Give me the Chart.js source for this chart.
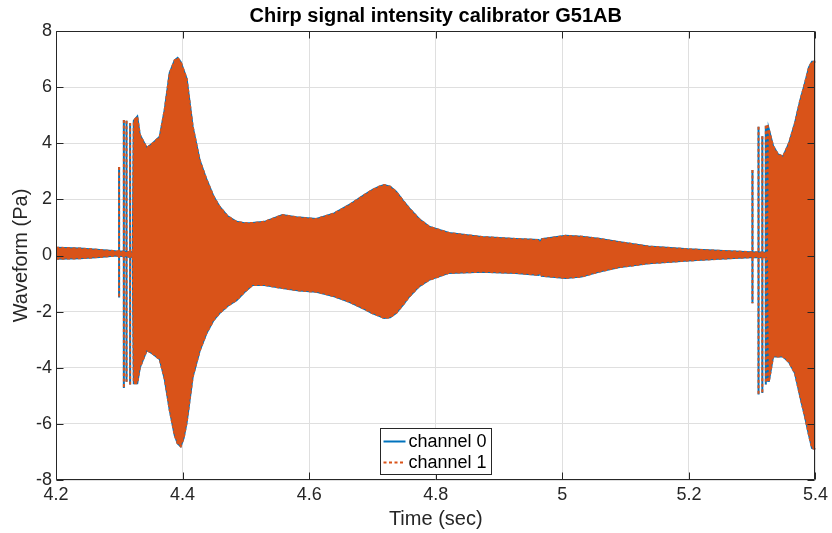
<!DOCTYPE html>
<html>
<head>
<meta charset="utf-8">
<title>Chirp signal intensity calibrator G51AB</title>
<script src="https://cdn.jsdelivr.net/npm/chart.js@4.4.1/dist/chart.umd.min.js"></script>
<style>
    html, body { margin: 0; padding: 0; background: #fff; }
    #wrap { width: 832px; height: 533px; }
</style>
</head>
<body>
<div id="wrap"><canvas id="chirp_chart" width="832" height="533"></canvas></div>
<script>
// envelope of the waveform (time in sec, pressure in Pa)
var envTime = [4.2, 4.2378, 4.2693, 4.2945, 4.3213, 4.3229, 4.3284, 4.3324, 4.3434, 4.3529,
    4.3639, 4.3718, 4.3796, 4.3875, 4.3922, 4.3970, 4.4017, 4.4064, 4.4159, 4.4269,
    4.4379, 4.4490, 4.4584, 4.4710, 4.4852, 4.4978, 4.5104, 4.5293, 4.5577, 4.5845,
    4.6113, 4.6396, 4.6633, 4.6869, 4.6995, 4.7106, 4.7184, 4.7279, 4.7374, 4.7484,
    4.7578, 4.7736, 4.7893, 4.8209, 4.8729, 4.9264, 4.9627, 4.9643, 4.9674, 5.0052,
    5.0304, 5.0572, 5.0888, 5.1360, 5.1991, 5.2464, 5.2968, 5.3251, 5.3262, 5.3330,
    5.3409, 5.3488, 5.3582, 5.3677, 5.3756, 5.3834, 5.3897, 5.3945, 5.4];
var envUpper = [0.28, 0.25, 0.2, 0.15, 0.12, 4.8, 4.95, 4.3, 3.83, 4.0,
    4.23, 5.2, 6.5, 6.95, 7.04, 6.9, 6.6, 6.3, 4.6, 3.4,
    2.7, 2.1, 1.74, 1.4, 1.2, 1.15, 1.16, 1.2, 1.44, 1.35,
    1.3, 1.5, 1.8, 2.15, 2.33, 2.45, 2.51, 2.45, 2.27, 1.95,
    1.69, 1.3, 1.03, 0.8, 0.66, 0.59, 0.55, 0.45, 0.58, 0.7,
    0.67, 0.6, 0.48, 0.32, 0.22, 0.17, 0.12, 0.1, 4.5, 3.9,
    3.6, 3.52, 4.0, 4.72, 5.5, 6.14, 6.7, 6.9, 6.9];
var envLower = [-0.12, -0.1, -0.05, 0.0, -0.05, -4.55, -4.55, -4.0, -3.37, -3.5,
    -3.7, -4.4, -5.5, -6.4, -6.7, -6.8, -6.5, -5.95, -4.33, -3.4,
    -2.76, -2.3, -2.05, -1.8, -1.59, -1.3, -1.05, -1.05, -1.16, -1.25,
    -1.29, -1.45, -1.65, -1.9, -2.05, -2.15, -2.23, -2.2, -2.05, -1.75,
    -1.47, -1.1, -0.87, -0.62, -0.58, -0.62, -0.69, -0.55, -0.72, -0.8,
    -0.75, -0.58, -0.42, -0.28, -0.18, -0.12, -0.06, -0.05, -4.5, -3.6,
    -3.6, -3.6, -3.8, -4.2, -5.0, -5.74, -6.4, -6.86, -6.9];

// single cycles at the start of each burst
var spikeTime = [4.2997, 4.3072, 4.3114, 4.3171, 5.3004, 5.3100, 5.3160, 5.3215, 5.3245];
var spikeHigh = [3.15, 4.83, 4.8, 4.72, 3.05, 4.59, 4.25, 4.62, 4.65];
var spikeLow = [-1.5, -4.72, -4.5, -4.6, -1.7, -4.95, -4.9, -4.6, -4.5];

var xTicks = [4.2, 4.4, 4.6, 4.8, 5, 5.2, 5.4];
var yTicks = [-8, -6, -4, -2, 0, 2, 4, 6, 8];

var seriesNames = ['channel 0', 'channel 1'];
var seriesColors = ['#0072BD', '#D95319'];

var FONT = '"Liberation Sans", Arial, Helvetica, sans-serif';
var INK = '#262626';

function toPoints(xs, ys) {
    return xs.map(function (t, i) { return {x: t, y: ys[i]}; });
}

function spikePoints() {
    var pts = [];
    for (var i = 0; i < spikeTime.length; i++) {
        pts.push({x: spikeTime[i], y: spikeHigh[i]});
        pts.push({x: spikeTime[i], y: spikeLow[i]});
        pts.push({x: spikeTime[i], y: null});
    }
    return pts;
}

function lineSet(label, data, ch, extra) {
    var ds = {
        label: label,
        data: data,
        borderColor: seriesColors[ch],
        backgroundColor: seriesColors[ch],
        borderWidth: 2,
        pointRadius: 0,
        tension: 0,
        fill: false,
        spanGaps: false,
        order: ch == 0 ? 1 : 0
    };
    if (ch == 1) {
        ds.borderDash = [3, 2.5];
    }
    for (var k in extra) ds[k] = extra[k];
    return ds;
}

// box, inner ticks, title, axis labels and legend the way MATLAB draws them
var matlabAxes = {
    id: 'matlabAxes',
    afterDatasetsDraw: function (chart) {
        var ctx = chart.ctx, a = chart.chartArea;
        var xs = chart.scales.x, ys = chart.scales.y;
        var L = Math.round(a.left) + 0.5, R = Math.round(a.right) - 0.5;
        var T = Math.round(a.top) + 0.5, B = Math.round(a.bottom) - 0.5;
        var tick = 7;
        ctx.save();
        ctx.strokeStyle = INK;
        ctx.lineWidth = 1;
        ctx.beginPath();
        ctx.rect(L, T, R - L, B - T);
        xTicks.forEach(function (v) {
            var px = Math.round(xs.getPixelForValue(v)) + 0.5;
            ctx.moveTo(px, B); ctx.lineTo(px, B - tick);
            ctx.moveTo(px, T); ctx.lineTo(px, T + tick);
        });
        yTicks.forEach(function (v) {
            var py = Math.round(ys.getPixelForValue(v)) + 0.5;
            ctx.moveTo(L, py); ctx.lineTo(L + tick, py);
            ctx.moveTo(R, py); ctx.lineTo(R - tick, py);
        });
        ctx.stroke();
        ctx.restore();
    },
    afterDraw: function (chart) {
        var ctx = chart.ctx, a = chart.chartArea;
        var cx = (a.left + a.right) / 2, cy = (a.top + a.bottom) / 2;
        ctx.save();
        ctx.fillStyle = '#000';
        ctx.textAlign = 'center';
        ctx.textBaseline = 'middle';
        ctx.font = 'bold 20px ' + FONT;
        ctx.fillText('Chirp signal intensity calibrator G51AB', cx, 16);

        ctx.fillStyle = INK;
        ctx.font = '20px ' + FONT;
        ctx.fillText('Time (sec)', cx, 519);
        ctx.save();
        ctx.translate(21, cy);
        ctx.rotate(-Math.PI / 2);
        ctx.fillText('Waveform (Pa)', 0, 0);
        ctx.restore();

        // legend box, bottom centre inside the axes
        var w = 111, h = 46;
        var bx = Math.round(cx - w / 2) + 0.5, by = Math.round(a.bottom - 52.5) + 0.5;
        ctx.fillStyle = '#fff';
        ctx.fillRect(bx, by, w, h);
        ctx.strokeStyle = INK;
        ctx.lineWidth = 1;
        ctx.strokeRect(bx, by, w, h);
        ctx.font = '18px ' + FONT;
        ctx.textAlign = 'left';
        for (var i = 0; i < seriesNames.length; i++) {
            var ry = by + 13 + i * 21;
            ctx.beginPath();
            ctx.strokeStyle = seriesColors[i];
            ctx.lineWidth = 2;
            ctx.setLineDash(i == 1 ? [3, 2.5] : []);
            ctx.moveTo(bx + 3, ry);
            ctx.lineTo(bx + 25, ry);
            ctx.stroke();
            ctx.setLineDash([]);
            ctx.fillStyle = '#000';
            ctx.fillText(seriesNames[i], bx + 28, ry + 1);
        }
        ctx.restore();
    }
};

new Chart(document.getElementById('chirp_chart'), {
    type: 'line',
    data: {
        datasets: [
            lineSet(seriesNames[0], toPoints(envTime, envUpper), 0, {}),
            lineSet(seriesNames[0] + ' low', toPoints(envTime, envLower), 0, {}),
            lineSet(seriesNames[0] + ' cycles', spikePoints(), 0, {}),
            lineSet(seriesNames[1], toPoints(envTime, envUpper), 1, {fill: '+1'}),
            lineSet(seriesNames[1] + ' low', toPoints(envTime, envLower), 1, {}),
            lineSet(seriesNames[1] + ' cycles', spikePoints(), 1, {})
        ]
    },
    options: {
        responsive: false,
        animation: false,
        events: [],
        layout: {padding: {top: 31, right: 14, left: 0, bottom: 0}},
        plugins: {
            legend: {display: false},
            title: {display: false},
            tooltip: {enabled: false}
        },
        scales: {
            x: {
                type: 'linear',
                min: 4.2,
                max: 5.4,
                afterBuildTicks: function (s) { s.ticks = xTicks.map(function (v) { return {value: v}; }); },
                afterFit: function (s) { s.height = 53; },
                ticks: {
                    padding: 4,
                    color: INK,
                    font: {size: 18, family: FONT},
                    maxRotation: 0,
                    callback: function (v) { return String(+v.toFixed(1)); }
                },
                grid: {color: '#dfdfdf', lineWidth: 1, drawTicks: false},
                border: {display: false}
            },
            y: {
                min: -8,
                max: 8,
                afterBuildTicks: function (s) { s.ticks = yTicks.map(function (v) { return {value: v}; }); },
                afterFit: function (s) { s.width = 56; },
                ticks: {
                    padding: 4,
                    color: INK,
                    font: {size: 18, family: FONT},
                    callback: function (v) { return String(v); }
                },
                grid: {color: '#dfdfdf', lineWidth: 1, drawTicks: false},
                border: {display: false}
            }
        }
    },
    plugins: [matlabAxes]
});
</script>
</body>
</html>
